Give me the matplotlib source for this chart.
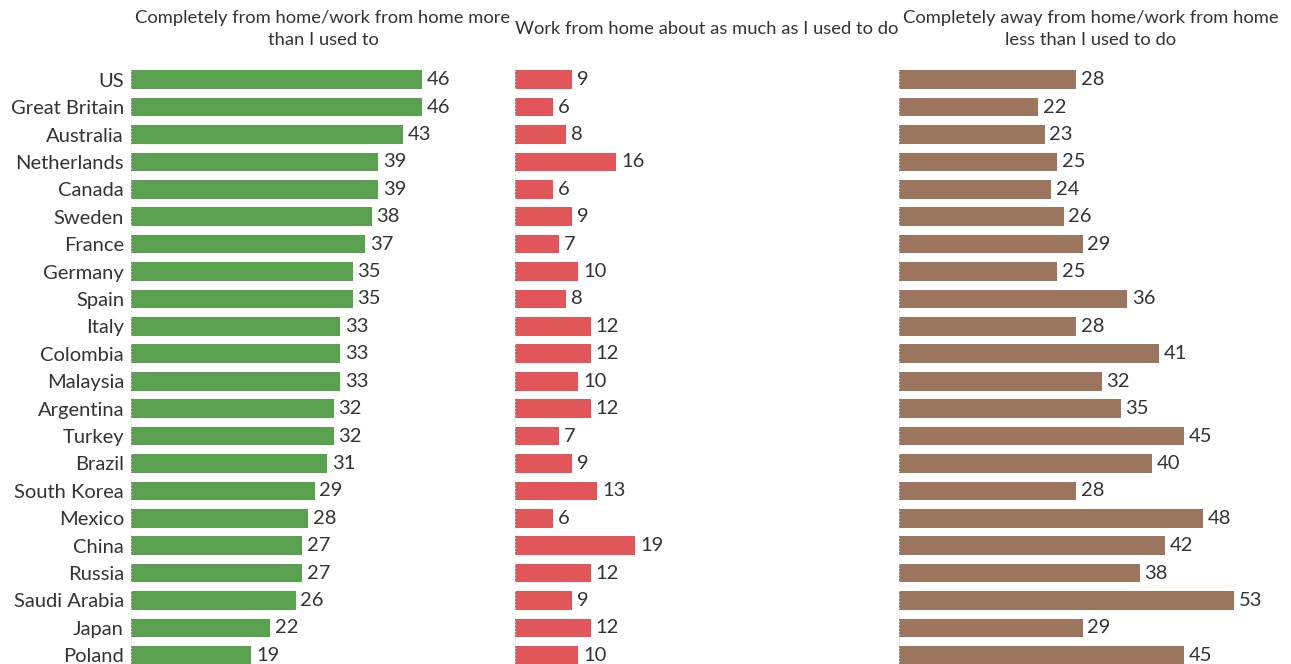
import matplotlib
matplotlib.use("Agg")
import matplotlib.pyplot as plt

plt.rcParams['font.family'] = ['Lato', 'DejaVu Sans']

countries = ["US", "Great Britain", "Australia", "Netherlands", "Canada", "Sweden",
             "France", "Germany", "Spain", "Italy", "Colombia", "Malaysia",
             "Argentina", "Turkey", "Brazil", "South Korea", "Mexico", "China",
             "Russia", "Saudi Arabia", "Japan", "Poland"]
more_home = [46, 46, 43, 39, 39, 38, 37, 35, 35, 33, 33, 33, 32, 32, 31, 29, 28, 27, 27, 26, 22, 19]
same_home = [9, 6, 8, 16, 6, 9, 7, 10, 8, 12, 12, 10, 12, 7, 9, 13, 6, 19, 12, 9, 12, 10]
less_home = [28, 22, 23, 25, 24, 26, 29, 25, 36, 28, 41, 32, 35, 45, 40, 28, 48, 42, 38, 53, 29, 45]
titles = ["Completely from home/work from home more\nthan I used to",
          "Work from home about as much as I used to do",
          "Completely away from home/work from home\nless than I used to do"]
colors = ["#59A14F", "#E15759", "#9C755F"]

W, H = 1291, 664
fig = plt.figure(figsize=(W / 100, H / 100), dpi=100)

txt = "#333333"
fs = 14.5
lefts = [131, 515, 899]
px_per_unit = 6.33
xmax = 60
top_px, bot_px = 66, 669

for i, (vals, title, col) in enumerate(zip([more_home, same_home, less_home], titles, colors)):
    ax = fig.add_axes([lefts[i] / W, 1 - bot_px / H, xmax * px_per_unit / W, (bot_px - top_px) / H])
    y = range(len(countries))
    ax.barh(y, vals, height=0.68, color=col)
    for yy, v in zip(y, vals):
        ax.annotate(str(v), (v, yy), xytext=(3.5, 0), textcoords='offset points',
                    va='center', ha='left', fontsize=fs, color=txt)
    ax.set_xlim(0, xmax)
    ax.set_ylim(len(countries) - 0.5, -0.5)
    ax.axvline(0, color="#dddddd", lw=0.8, ls=(0, (1, 2)))
    for s in ax.spines.values():
        s.set_visible(False)
    ax.set_xticks([])
    if i == 0:
        ax.set_yticks(list(y))
        ax.set_yticklabels(countries, fontsize=fs, color=txt)
        ax.tick_params(axis='y', length=0, pad=5)
    else:
        ax.set_yticks([])
    fig.text((lefts[i] + 192) / W, 1 - 29 / H, title, ha='center', va='center',
             fontsize=13.2, color=txt, linespacing=1.45)

fig.savefig("out.png", dpi=100)
